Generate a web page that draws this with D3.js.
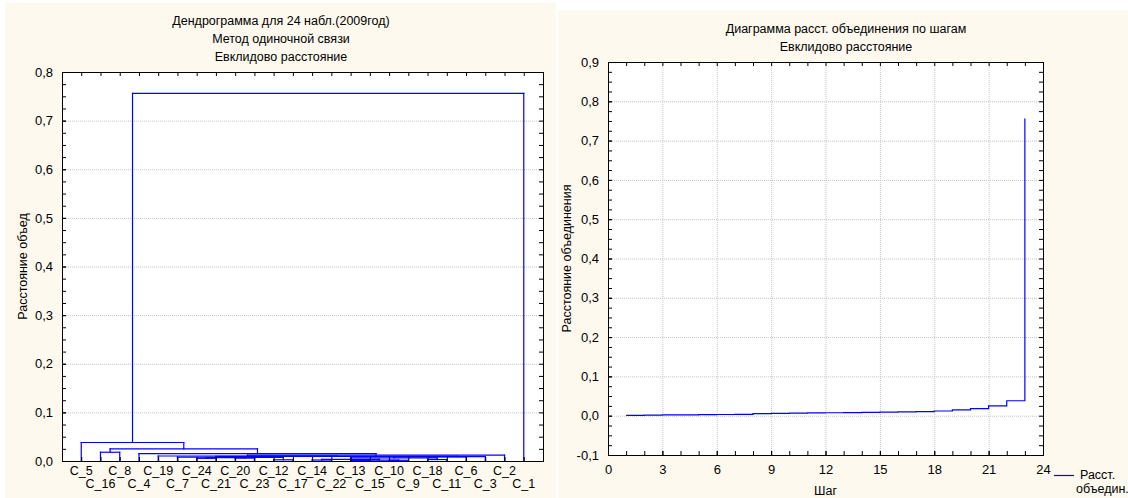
<!DOCTYPE html>
<html>
<head>
<meta charset="utf-8">
<script src="https://cdn.jsdelivr.net/npm/d3@7"></script>
<style>
  body { margin: 0; background: #fff; }
  svg { display: block; font-family: "Liberation Sans", Arial, sans-serif; }
</style>
</head>
<body>
<svg id="chart" width="1128" height="498"></svg>
<script>
// leaves as they stand along the dendrogram axis
const leafLabels = ["C_5","C_16","C_8","C_4","C_19","C_7","C_24","C_21","C_20","C_23","C_12","C_17",
                    "C_14","C_22","C_13","C_15","C_10","C_9","C_18","C_11","C_6","C_3","C_2","C_1"];
// amalgamation step and distance at each step
const steps = [1,2,3,4,5,6,7,8,9,10,11,12,13,14,15,16,17,18,19,20,21,22,23];
const joinDist = [0.001,0.0015,0.002,0.002,0.0025,0.003,0.0035,0.0055,0.006,0.0065,0.007,0.0075,
                  0.008,0.0085,0.009,0.0095,0.0103,0.012,0.015,0.018,0.025,0.038,0.756];
// nodes joined at each step (0-23 = leaves, 24+ = clusters made at earlier steps)
const joins = [[14,15],[16,17],[12,13],[24,25],[10,11],[18,19],[26,27],[6,7],[8,9],[30,29],[31,32],[34,28],
               [5,35],[33,20],[37,21],[36,38],[4,39],[40,22],[3,41],[1,2],[43,42],[0,44],[45,23]];
// tick values
const leftTicks = [0,0.1,0.2,0.3,0.4,0.5,0.6,0.7,0.8];
const rightYTicks = [-0.1,0,0.1,0.2,0.3,0.4,0.5,0.6,0.7,0.8,0.9];
const rightXTicks = [0,3,6,9,12,15,18,21,24];

const W = 1128, H = 498;
const cream = "#fdf9ee";
const blue = "#0000ff";
const gridCol = "#c4c4c4";
const svg = d3.select("#chart");
const fmt = d3.formatLocale({decimal: ",", thousands: " ", grouping: [3], currency: ["", ""], minus: "-"}).format(".1f");

svg.append("rect").attr("width", W).attr("height", H).attr("fill", "#fff");
svg.append("rect").attr("x", 5).attr("y", 3).attr("width", 551).attr("height", H - 3).attr("fill", cream);
svg.append("rect").attr("x", 558).attr("y", 10).attr("width", W - 558).attr("height", H - 10).attr("fill", cream);

function styleGrid(g) {
  g.select(".domain").remove();
  g.selectAll("line").attr("stroke", gridCol).attr("stroke-dasharray", "1,1");
}
function styleAxis(g) {
  g.selectAll("path, line").attr("stroke", "#000");
  g.selectAll("text").attr("fill", "#000").attr("font-size", 13).attr("font-family", null);
}
function minorRange(a, b, st) {
  const out = [];
  for (let v = a; v <= b + 1e-9; v += st) out.push(+v.toFixed(4));
  return out;
}

//////////////// left: dendrogram ////////////////
const p1 = {left: 62, right: 543, top: 72, bottom: 461};
const xL = d3.scaleLinear().domain([0, leafLabels.length + 1]).range([p1.left, p1.right]);
const yL = d3.scaleLinear().domain([0, 0.8]).range([p1.bottom, p1.top]);
const g1 = svg.append("g");

g1.append("rect").attr("x", p1.left + 0.5).attr("y", p1.top + 0.5)
  .attr("width", p1.right - p1.left).attr("height", p1.bottom - p1.top).attr("fill", "#fff");

g1.append("g").attr("transform", `translate(${p1.left},0)`)
  .call(d3.axisLeft(yL).tickValues(leftTicks.slice(1, -1)).tickSize(-(p1.right - p1.left)).tickFormat(""))
  .call(styleGrid);

// build the tree lines from the join list
const nodeX = leafLabels.map((d, i) => xL(i + 1));
const nodeH = leafLabels.map(() => 0);
const segs = [];
joins.forEach(([a, b], k) => {
  const h = joinDist[k];
  segs.push([nodeX[a], nodeH[a], nodeX[a], h]);
  segs.push([nodeX[b], nodeH[b], nodeX[b], h]);
  segs.push([nodeX[a], h, nodeX[b], h]);
  nodeX.push((nodeX[a] + nodeX[b]) / 2);
  nodeH.push(h);
});
g1.append("g").selectAll("line").data(segs).join("line")
  .attr("x1", d => d[0]).attr("y1", d => yL(d[1]))
  .attr("x2", d => d[2]).attr("y2", d => yL(d[3]))
  .attr("stroke", blue).attr("stroke-width", 1.2).attr("stroke-linecap", "square");

g1.append("rect").attr("x", p1.left + 0.5).attr("y", p1.top + 0.5)
  .attr("width", p1.right - p1.left).attr("height", p1.bottom - p1.top)
  .attr("fill", "none").attr("stroke", "#000");

const leafPos = leafLabels.map((d, i) => i + 1);
const minorL = minorRange(0, 0.8, 0.025);
g1.append("g").attr("transform", `translate(${p1.left},0)`)
  .call(d3.axisLeft(yL).tickValues(leftTicks).tickSize(-4).tickSizeOuter(0).tickPadding(9).tickFormat(fmt))
  .call(styleAxis);
g1.append("g").attr("transform", `translate(${p1.left},0)`)
  .call(d3.axisLeft(yL).tickValues(minorL).tickSize(-4).tickSizeOuter(0).tickFormat("")).call(styleAxis);
g1.append("g").attr("transform", `translate(${p1.right},0)`)
  .call(d3.axisRight(yL).tickValues(minorL).tickSize(-4).tickSizeOuter(0).tickFormat("")).call(styleAxis);
g1.append("g").attr("transform", `translate(0,${p1.top})`)
  .call(d3.axisTop(xL).tickValues(leafPos).tickSize(-4).tickSizeOuter(0).tickFormat("")).call(styleAxis);
g1.append("g").attr("transform", `translate(0,${p1.bottom})`)
  .call(d3.axisBottom(xL).tickValues(leafPos).tickSize(-4).tickSizeOuter(0).tickFormat("")).call(styleAxis);

g1.append("g").selectAll("text").data(leafLabels).join("text")
  .attr("x", (d, i) => xL(i + 1))
  .attr("y", (d, i) => i % 2 === 0 ? 475 : 488)
  .attr("text-anchor", "middle").attr("font-size", 12.5)
  .text(d => d);

const t1 = ["Дендрограмма для 24 набл.(2009год)", "Метод одиночной связи", "Евклидово расстояние"];
g1.append("g").selectAll("text").data(t1).join("text")
  .attr("x", 281).attr("y", (d, i) => 25 + i * 18)
  .attr("text-anchor", "middle").attr("font-size", 12.5).text(d => d);

g1.append("text")
  .attr("transform", `translate(27,${(p1.top + p1.bottom) / 2}) rotate(-90)`)
  .attr("text-anchor", "middle").attr("font-size", 12.5).text("Расстояние объед");

//////////////// right: joining distance by step ////////////////
const p2 = {left: 608, right: 1043, top: 62, bottom: 455};
const xR = d3.scaleLinear().domain([0, 24]).range([p2.left, p2.right]);
const yR = d3.scaleLinear().domain([-0.1, 0.9]).range([p2.bottom, p2.top]);
const g2 = svg.append("g");

g2.append("rect").attr("x", p2.left + 0.5).attr("y", p2.top + 0.5)
  .attr("width", p2.right - p2.left).attr("height", p2.bottom - p2.top).attr("fill", "#fff");
g2.append("g").attr("transform", `translate(${p2.left},0)`)
  .call(d3.axisLeft(yR).tickValues(rightYTicks.slice(1, -1)).tickSize(-(p2.right - p2.left)).tickFormat(""))
  .call(styleGrid);
g2.append("g").attr("transform", `translate(0,${p2.bottom})`)
  .call(d3.axisBottom(xR).tickValues(rightXTicks.slice(1, -1)).tickSize(-(p2.bottom - p2.top)).tickFormat(""))
  .call(styleGrid);

const stepLine = d3.line().x(d => xR(d[0])).y(d => yR(d[1])).curve(d3.curveStepAfter);
g2.append("path").datum(steps.map((s, i) => [s, joinDist[i]]))
  .attr("d", stepLine).attr("fill", "none").attr("stroke", blue).attr("stroke-width", 1.2);

g2.append("rect").attr("x", p2.left + 0.5).attr("y", p2.top + 0.5)
  .attr("width", p2.right - p2.left).attr("height", p2.bottom - p2.top)
  .attr("fill", "none").attr("stroke", "#000");

const minorRY = minorRange(-0.1, 0.9, 0.025);
const minorRX = minorRange(0, 24, 1);
g2.append("g").attr("transform", `translate(${p2.left},0)`)
  .call(d3.axisLeft(yR).tickValues(rightYTicks).tickSize(-4).tickSizeOuter(0).tickPadding(9).tickFormat(fmt))
  .call(styleAxis);
g2.append("g").attr("transform", `translate(${p2.left},0)`)
  .call(d3.axisLeft(yR).tickValues(minorRY).tickSize(-4).tickSizeOuter(0).tickFormat("")).call(styleAxis);
g2.append("g").attr("transform", `translate(${p2.right},0)`)
  .call(d3.axisRight(yR).tickValues(minorRY).tickSize(-4).tickSizeOuter(0).tickFormat("")).call(styleAxis);
g2.append("g").attr("transform", `translate(0,${p2.top})`)
  .call(d3.axisTop(xR).tickValues(minorRX).tickSize(-4).tickSizeOuter(0).tickFormat("")).call(styleAxis);
g2.append("g").attr("transform", `translate(0,${p2.bottom})`)
  .call(d3.axisBottom(xR).tickValues(minorRX).tickSize(-4).tickSizeOuter(0).tickFormat("")).call(styleAxis);
g2.append("g").attr("transform", `translate(0,${p2.bottom})`)
  .call(d3.axisBottom(xR).tickValues(rightXTicks).tickSize(-4).tickSizeOuter(0).tickPadding(10).tickFormat(d3.format("d")))
  .call(styleAxis);

const t2 = ["Диаграмма расст. объединения по шагам", "Евклидово расстояние"];
g2.append("g").selectAll("text").data(t2).join("text")
  .attr("x", 846).attr("y", (d, i) => 33 + i * 18)
  .attr("text-anchor", "middle").attr("font-size", 12.5).text(d => d);

g2.append("text").attr("x", (p2.left + p2.right) / 2).attr("y", 495)
  .attr("text-anchor", "middle").attr("font-size", 12.5).text("Шаг");
g2.append("text")
  .attr("transform", `translate(571,${(p2.top + p2.bottom) / 2}) rotate(-90)`)
  .attr("text-anchor", "middle").attr("font-size", 12.5).text("Расстояние объединения");

// legend
const lg = g2.append("g");
lg.append("line").attr("x1", 1054).attr("x2", 1074).attr("y1", 475.5).attr("y2", 475.5)
  .attr("stroke", blue).attr("stroke-width", 1.2);
lg.append("text").attr("x", 1080).attr("y", 479).attr("font-size", 12.5).text("Расст.");
lg.append("text").attr("x", 1076).attr("y", 493).attr("font-size", 12.5).text("объедин.");
</script>
</body>
</html>
